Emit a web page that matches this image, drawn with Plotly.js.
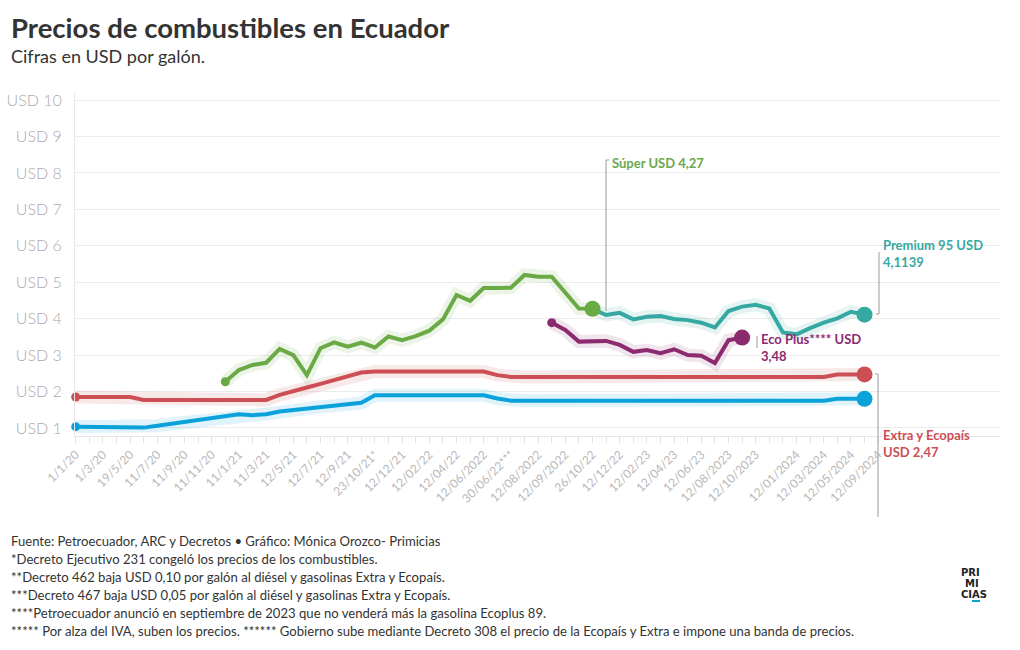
<!DOCTYPE html>
<html>
<head>
<meta charset="utf-8">
<script src="https://cdn.plot.ly/plotly-3.0.1.min.js"></script>
<style>
  html, body { margin: 0; padding: 0; background: #fff; }
  #chart { width: 1020px; height: 650px; }
</style>
</head>
<body>
<div id="chart"></div>
<script>
// ---- Data ----
const tickLabels = [
  '1/1/20', '', '1/3/20', '', '19/5/20', '', '11/7/20', '', '11/9/20', '',
  '11/11/20', '', '11/1/21', '', '11/3/21', '', '12/5/21', '', '12/7/21', '',
  '12/9/21', '', '23/10/21*', '', '12/12/21', '', '12/02/22', '', '12/04/22', '',
  '12/06/2022', '', '30/06/22***', '', '12/08/2022', '', '12/09/2022', '', '26/10/22', '',
  '12/12/22', '', '12/02/23', '', '12/04/23', '', '12/06/23', '', '12/08/2023', '',
  '12/10/2023', '', '', '12/01/2024', '', '12/03/2024', '', '12/05/2024', '', '12/09/2024'
];

const diesel = [
  1.037, 1.037, 1.037, 1.037, 1.037, 1.01, 1.06, 1.11, 1.16, 1.21,
  1.27, 1.32, 1.375, 1.35, 1.38, 1.45, 1.49, 1.54, 1.58, 1.61,
  1.65, 1.69, 1.90, 1.90, 1.90, 1.90, 1.90, 1.90, 1.90, 1.90,
  1.90, 1.81, 1.75, 1.75, 1.75, 1.75, 1.75, 1.75, 1.75, 1.75,
  1.75, 1.75, 1.75, 1.75, 1.75, 1.75, 1.75, 1.75, 1.75, 1.75,
  1.75, 1.75, 1.75, 1.75, 1.75, 1.75, 1.80, 1.80, 1.80
];

const extra = [
  1.85, 1.85, 1.85, 1.85, 1.85, 1.77, 1.77, 1.77, 1.77, 1.77,
  1.77, 1.77, 1.77, 1.77, 1.77, 1.91, 2.00, 2.11, 2.21, 2.32,
  2.43, 2.52, 2.55, 2.55, 2.55, 2.55, 2.55, 2.55, 2.55, 2.55,
  2.55, 2.45, 2.40, 2.40, 2.40, 2.40, 2.40, 2.40, 2.40, 2.40,
  2.40, 2.40, 2.40, 2.40, 2.40, 2.40, 2.40, 2.40, 2.40, 2.40,
  2.40, 2.40, 2.40, 2.40, 2.40, 2.40, 2.47, 2.47, 2.47
];

const super_ = [
  null, null, null, null, null, null, null, null, null, null,
  null, 2.27, 2.59, 2.73, 2.79, 3.17, 3.00, 2.45, 3.19, 3.35,
  3.23, 3.34, 3.21, 3.51, 3.41, 3.52, 3.67, 3.98, 4.65, 4.49,
  4.84, 4.84, 4.85, 5.20, 5.15, 5.15, 4.72, 4.28, 4.27
];

const premium95 = [
  null, null, null, null, null, null, null, null, null, null,
  null, null, null, null, null, null, null, null, null, null,
  null, null, null, null, null, null, null, null, null, null,
  null, null, null, null, null, null, null, null, 4.27, 4.10,
  4.16, 3.98, 4.05, 4.07, 3.99, 3.96, 3.89, 3.76, 4.21, 4.33,
  4.38, 4.28, 3.62, 3.57, 3.74, 3.89, 4.01, 4.19, 4.11
];

const ecoPlus = [
  null, null, null, null, null, null, null, null, null, null,
  null, null, null, null, null, null, null, null, null, null,
  null, null, null, null, null, null, null, null, null, null,
  null, null, null, null, null, 3.89, 3.69, 3.37, 3.37, 3.39,
  3.28, 3.09, 3.14, 3.05, 3.16, 3.00, 2.98, 2.78, 3.41, 3.48
];

const footerLines = [
  'Fuente: Petroecuador, ARC y Decretos • Gráfico: Mónica Orozco- Primicias',
  '*Decreto Ejecutivo 231 congeló los precios de los combustibles.',
  '**Decreto 462 baja USD 0,10 por galón al diésel y gasolinas Extra y Ecopaís.',
  '***Decreto 467 baja USD 0,05 por galón al diésel y gasolinas Extra y Ecopaís.',
  '****Petroecuador anunció en septiembre de 2023 que no venderá más la gasolina Ecoplus 89.',
  '***** Por alza del IVA, suben los precios. ****** Gobierno sube mediante Decreto 308 el precio de la Ecopaís y Extra e impone una banda de precios.'
];

// ---- Styling / layout ----
const FONT = 'Lato, "Source Sans Pro", "Noto Sans", sans-serif';
const M = { l: 75, r: 20, t: 93, b: 214 };
const W = 1020, H = 650;
const PW = W - M.l - M.r, PH = H - M.t - M.b;
const px = v => (v - M.l) / PW;          // pixel -> paper x
const py = v => (M.t + PH - v) / PH;      // pixel -> paper y

const xIdx = tickLabels.map((_, i) => i);

const series = [
  { name: 'Diésel', y: diesel, color: '#0ba2dc' },
  { name: 'Extra y Ecopaís', y: extra, color: '#cd4f56' },
  { name: 'Súper', y: super_, color: '#6aaa45' },
  { name: 'Premium 95', y: premium95, color: '#36a8a2' },
  { name: 'Eco Plus', y: ecoPlus, color: '#8c2a6f' }
];

function lastIdx(arr) { for (let i = arr.length - 1; i >= 0; i--) if (arr[i] != null) return i; return -1; }
function firstIdx(arr) { for (let i = 0; i < arr.length; i++) if (arr[i] != null) return i; return -1; }

const traces = [];
// halos
series.forEach(s => {
  traces.push({
    x: xIdx.slice(0, s.y.length), y: s.y, type: 'scatter', mode: 'lines',
    line: { color: s.color, width: 13 }, opacity: 0.12,
    hoverinfo: 'skip', showlegend: false, cliponaxis: false
  });
});
// lines
series.forEach(s => {
  traces.push({
    x: xIdx.slice(0, s.y.length), y: s.y, type: 'scatter', mode: 'lines',
    line: { color: s.color, width: 4, shape: 'linear' }, name: s.name,
    showlegend: false, cliponaxis: false
  });
});
// start (small) and end (big) dots
const drawOrderDots = [0, 1, 4, 3, 2];
drawOrderDots.forEach(k => {
  const s = series[k];
  const f = firstIdx(s.y), l = lastIdx(s.y);
  traces.push({
    x: [xIdx[f]], y: [s.y[f]], type: 'scatter', mode: 'markers',
    marker: { color: s.color, size: 9 }, showlegend: false, cliponaxis: false, hoverinfo: 'skip'
  });
  traces.push({
    x: [xIdx[l]], y: [s.y[l]], type: 'scatter', mode: 'markers',
    marker: { color: s.color, size: 16 }, showlegend: false, cliponaxis: false,
    name: s.name
  });
});

const annotations = [];
// subtitle
annotations.push({
  xref: 'paper', yref: 'paper', x: px(9), y: py(56), xanchor: 'left', yanchor: 'middle',
  text: 'Cifras en USD por galón.', showarrow: false,
  font: { family: FONT, size: 18, color: '#333333' }
});
// series labels
const lab = (x, y, text, color) => ({
  xref: 'paper', yref: 'paper', x: px(x), y: py(y), xanchor: 'left', yanchor: 'middle',
  text: '<b>' + text + '</b>', showarrow: false, align: 'left',
  font: { family: FONT, size: 13, color }
});
annotations.push(lab(610, 163, 'Súper USD 4,27', '#6aa84f'));
annotations.push(lab(881, 253, 'Premium 95 USD<br>4,1139', '#36a8a2'));
annotations.push(lab(759, 347, 'Eco Plus**** USD<br>3,48', '#8c2a6f'));
annotations.push(lab(881, 444, 'Extra y Ecopaís<br>USD 2,47', '#cd4f56'));

// footer
footerLines.forEach((t, i) => {
  annotations.push({
    xref: 'paper', yref: 'paper', x: px(9), y: py(541 + i * 18), xanchor: 'left', yanchor: 'middle',
    text: t, showarrow: false, font: { family: FONT, size: 13.1, color: '#333333' }
  });
});

// logo
[['PRI', 970, 572], ['MI', 972, 583], ['CIAS', 974, 594]].forEach(([t, x, y]) => {
  annotations.push({
    xref: 'paper', yref: 'paper', x: px(x), y: py(y), xanchor: 'center', yanchor: 'middle',
    text: '<b>' + t + '</b>', showarrow: false,
    font: { family: '"DejaVu Sans", sans-serif', size: 10, color: '#222222' }
  });
});

const gl = { color: '#9a9a9a', width: 1 };
const seg = (x0, y0, x1, y1, line) => ({
  type: 'line', xref: 'paper', yref: 'paper', x0: px(x0), y0: py(y0), x1: px(x1), y1: py(y1), line: line || gl
});
const shapes = [
  // Súper leader
  seg(606, 311, 606, 160), seg(606, 160, 609, 160),
  // Premium leader
  seg(879, 252, 879, 314), seg(879, 314, 876, 314),
  // Eco plus leader
  seg(757, 336, 757, 348),
  // Extra leader
  seg(878, 374, 878, 517), seg(878, 374, 875, 374),
  // logo bar
  seg(972, 601, 980, 601, { color: '#0ba2dc', width: 2 })
];

const layout = {
  width: W, height: H,
  margin: M,
  paper_bgcolor: '#ffffff', plot_bgcolor: '#ffffff',
  font: { family: FONT },
  showlegend: false,
  title: {
    text: '<b>Precios de combustibles en Ecuador</b>',
    xref: 'container', yref: 'container', x: 11 / W, xanchor: 'left',
    y: 1 - 28 / H, yanchor: 'middle',
    font: { family: FONT, size: 27.5, color: '#333333' }
  },
  xaxis: {
    type: 'linear', range: [-0.05, 67.96],
    tickmode: 'array', tickvals: xIdx, ticktext: tickLabels,
    tickangle: -45, ticks: 'outside', ticklen: 6, tickcolor: '#e3e3e3', tickwidth: 1,
    tickfont: { family: FONT, size: 12, color: '#b8b8b8' },
    showgrid: false, zeroline: false, showline: true, linecolor: '#e6e6e6', linewidth: 1,
    fixedrange: true
  },
  yaxis: {
    range: [0.78, 10.193],
    tickmode: 'linear', tick0: 1, dtick: 1, tickprefix: 'USD ',
    tickfont: { family: FONT, size: 16, color: '#aaaaaa', weight: 300 },
    showgrid: true, gridcolor: '#ececec', gridwidth: 1,
    zeroline: false, showline: true, linecolor: '#e8e8e8', linewidth: 1,
    ticks: '', ticklabelstandoff: 9, fixedrange: true
  },
  annotations, shapes
};

Plotly.newPlot('chart', traces, layout, { displayModeBar: false, staticPlot: true });
</script>
</body>
</html>
